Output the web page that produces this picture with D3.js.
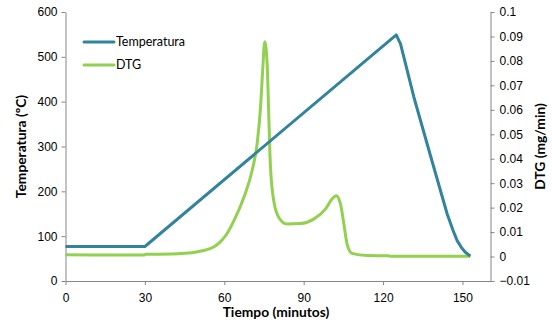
<!DOCTYPE html>
<html>
<head>
<meta charset="utf-8">
<script src="https://cdn.jsdelivr.net/npm/d3@7"></script>
<style>
  body { margin: 0; background: #fff; }
  svg { font-family: Lato, "Open Sans", sans-serif; }
  .axis path, .axis line { stroke: #868686; }
  .axis text { font-size: 12px; fill: #000; }
  .title { font-size: 13.8px; font-weight: bold; }
</style>
</head>
<body>
<svg width="552" height="325"></svg>
<script>
const W = 552;
const H = 325;

// temperature curve (minutes, ºC)
const tempTime = [0, 30, 125, 125.6, 126.6, 131.6, 137.9, 144.2, 146.5, 148, 149.8, 151.1, 152.2, 153];
const tempValue = [77, 77, 549, 541, 529, 411, 280, 150, 112, 90, 73, 64, 59, 56];

// DTG curve (minutes, mg/min)
const dtgTime = [0, 10, 20, 29.8, 30.2, 40, 45, 50, 53, 55.6, 58, 60.8, 63.6, 67.4, 70.5, 72.4, 73.7, 74.5, 75.3,
  76.2, 76.8, 77.4, 78.7, 80.6, 83.7, 88.8, 93.8, 98.2, 100.7, 102.3, 103.9, 105.2, 106.4, 108.3,
  114, 122, 122.5, 153];
const dtgValue = [0.0007, 0.0006, 0.0006, 0.0006, 0.0009, 0.0010, 0.0013, 0.0020, 0.0027, 0.0037, 0.0055, 0.0090,
  0.0146, 0.0242, 0.0351, 0.0460, 0.0610, 0.0760, 0.0878,
  0.0787, 0.0583, 0.0378, 0.0228, 0.0160, 0.0133, 0.0135, 0.0153, 0.0194, 0.0235, 0.0249,
  0.0215, 0.0133, 0.0051, 0.0013, 0.0004, 0.0003, 0.0001, 0.0001];

const xTicks = [0, 30, 60, 90, 120, 150];
const leftTicks = [0, 100, 200, 300, 400, 500, 600];
const rightTicks = [-0.01, 0, 0.01, 0.02, 0.03, 0.04, 0.05, 0.06, 0.07, 0.08, 0.09, 0.1];

const BLUE = '#31849b';
const GREEN = '#92d050';

const margin = {left: 65.5, right: 552 - 490.5, top: 12, bottom: 325 - 281};

const svg = d3.select('svg');

const x = d3.scaleLinear().domain([0, 160.6]).range([margin.left, W - margin.right]);
const yL = d3.scaleLinear().domain([0, 600]).range([H - margin.bottom, margin.top]);
const yR = d3.scaleLinear().domain([-0.01, 0.1]).range([H - margin.bottom, margin.top]);

svg.append('g')
    .attr('class', 'axis')
    .attr('transform', `translate(0,${H - margin.bottom})`)
    .call(d3.axisBottom(x).tickValues(xTicks).tickSize(4).tickSizeOuter(0).tickPadding(8));

svg.append('g')
    .attr('class', 'axis')
    .attr('transform', `translate(${margin.left},0)`)
    .call(d3.axisLeft(yL).tickValues(leftTicks).tickSize(4).tickSizeOuter(0).tickPadding(4));

svg.append('g')
    .attr('class', 'axis')
    .attr('transform', `translate(${W - margin.right},0)`)
    .call(d3.axisRight(yR).tickValues(rightTicks).tickSize(4).tickSizeOuter(0).tickPadding(5)
      .tickFormat(d => d3.format('')(+d.toFixed(2))));

// lines
const tempLine = d3.line()
    .x(i => x(tempTime[i]))
    .y(i => yL(tempValue[i]));

const dtgLine = d3.line()
    .x(i => x(dtgTime[i]))
    .y(i => yR(dtgValue[i]))
    .curve(d3.curveMonotoneX);

svg.append('path')
    .attr('d', dtgLine(d3.range(dtgTime.length)))
    .attr('fill', 'none')
    .attr('stroke', GREEN)
    .attr('stroke-width', 3)
    .attr('stroke-linejoin', 'round');

svg.append('path')
    .attr('d', tempLine(d3.range(tempTime.length)))
    .attr('fill', 'none')
    .attr('stroke', BLUE)
    .attr('stroke-width', 3)
    .attr('stroke-linejoin', 'round');

// axis titles
svg.append('text')
    .attr('class', 'title')
    .attr('transform', `translate(26,${(margin.top + H - margin.bottom) / 2}) rotate(-90)`)
    .attr('text-anchor', 'middle')
    .text('Temperatura (ºC)');

svg.append('text')
    .attr('class', 'title')
    .attr('transform', `translate(545,${(margin.top + H - margin.bottom) / 2}) rotate(-90)`)
    .attr('text-anchor', 'middle')
    .text('DTG (mg/min)');

svg.append('text')
    .attr('class', 'title')
    .attr('x', 276)
    .attr('y', 317)
    .attr('text-anchor', 'middle')
    .text('Tiempo (minutos)');

// legend
const legend = [['Temperatura', BLUE], ['DTG', GREEN]];
const lg = svg.append('g').selectAll('g')
  .data(legend)
  .join('g')
    .attr('transform', (d, i) => `translate(84,${42 + i * 23})`);
lg.append('line')
    .attr('x1', 0).attr('x2', 30)
    .attr('stroke', d => d[1])
    .attr('stroke-width', 3)
    .attr('stroke-linecap', 'round');
lg.append('text')
    .attr('x', 32)
    .attr('dy', '0.35em')
    .style('font-size', '12.5px')
    .text(d => d[0]);
</script>
</body>
</html>
